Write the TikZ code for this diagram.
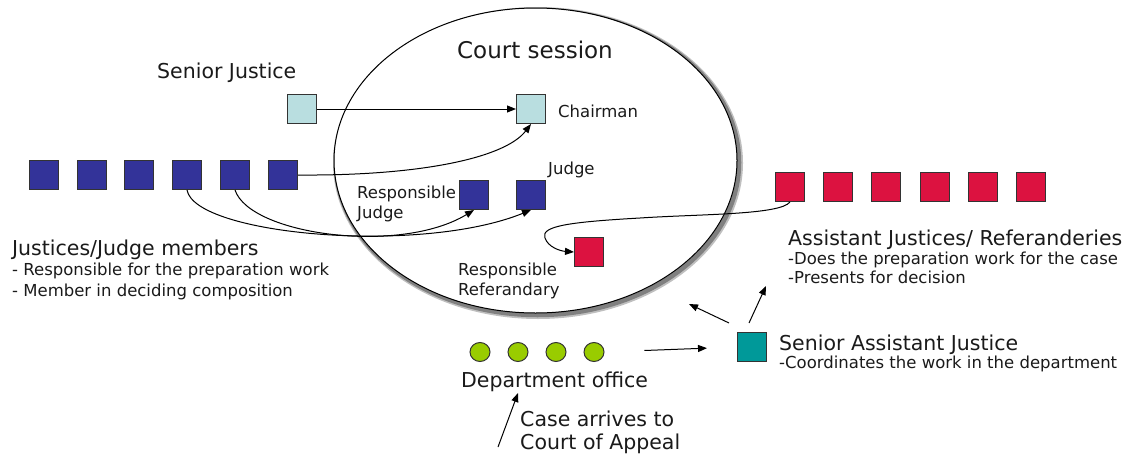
\documentclass[tikz,border=0pt]{standalone}
\usepackage{fontspec}
\setmainfont{DejaVu Sans}
\usetikzlibrary{arrows.meta,shapes.geometric}

\definecolor{navyc}{HTML}{333399}
\definecolor{lightc}{HTML}{B9DEE0}
\definecolor{redc}{HTML}{DC1240}
\definecolor{tealc}{HTML}{009999}
\definecolor{greenc}{HTML}{99CC00}
\definecolor{inkc}{HTML}{1A1A1A}

\newcommand{\bigtxt}{\fontsize{20.5}{24}\selectfont}
\newcommand{\smalltxt}{\fontsize{16.5}{20}\selectfont}
\newcommand{\titletxt}{\fontsize{23}{28}\selectfont}

\tikzset{
  box/.style={draw=black!80, line width=1pt, minimum width=29pt, minimum height=29pt, inner sep=0pt},
  navybox/.style={box, fill=navyc},
  lightbox/.style={box, fill=lightc},
  redbox/.style={box, fill=redc},
  tealbox/.style={box, fill=tealc},
  dot/.style={draw=black!80, line width=1pt, fill=greenc, ellipse, minimum width=20pt, minimum height=19pt, inner sep=0pt},
  lbl/.style={anchor=base west, inner sep=0pt, text=inkc},
  arr/.style={-{Triangle[length=9pt,width=7pt]}, line width=1pt},
  link/.style={line width=1pt}
}

\begin{document}
\begin{tikzpicture}[x=1pt,y=-1pt]
\useasboundingbox (0,0) rectangle (1131,455);

% soft drop shadow of the court session ellipse, kept outside the outline
\begin{scope}[even odd rule]
  \clip (-20,-20) rectangle (1151,475) (535.5,160.5) ellipse [x radius=201.5pt, y radius=152.5pt];
  \draw[black!25, line width=7pt] (538,163) ellipse [x radius=201.5pt, y radius=152.5pt];
  \draw[black!50, line width=4.5pt] (537.5,162.5) ellipse [x radius=201.5pt, y radius=152.5pt];
\end{scope}
\draw[line width=1pt] (535.5,160.5) ellipse [x radius=201.5pt, y radius=152.5pt];
\node[anchor=base, inner sep=0pt, text=inkc, font=\titletxt] (cs) at (535,58) {Court session};

% senior justice and chairman
\node[lightbox] (sj) at (301.5,109) {};
\node[lightbox] (ch) at (531,109) {};
\node[lbl, font=\bigtxt] (sjl) at (157,78) {Senior Justice};
\node[lbl, font=\smalltxt] (chl) at (558,117) {Chairman};

% justices / judge members
\foreach \i/\x in {1/43.5,2/91.5,3/139,4/187,5/235,6/283}
  \node[navybox] (n\i) at (\x,175) {};
\node[navybox] (rj) at (474,195) {};
\node[navybox] (jd) at (531,195) {};
\node[lbl, font=\smalltxt] (jdl) at (548,174) {Judge};
\node[lbl, font=\smalltxt] (rjl1) at (357,198) {Responsible};
\node[lbl, font=\smalltxt] (rjl2) at (357,218) {Judge};

\node[lbl, font=\bigtxt] (jm) at (12,255) {Justices/Judge members};
\node[lbl, font=\smalltxt] (jm1) at (12,275) {- Responsible for the preparation work};
\node[lbl, font=\smalltxt] (jm2) at (12,296) {- Member in deciding composition};

% assistant justices / referanderies
\foreach \i/\x in {1/790,2/838,3/886,4/935,5/983,6/1031}
  \node[redbox] (r\i) at (\x,187) {};
\node[redbox] (rr) at (589,252) {};
\node[lbl, font=\smalltxt] (rrl1) at (458,275) {Responsible};
\node[lbl, font=\smalltxt] (rrl2) at (458,295) {Referandary};

\node[lbl, font=\bigtxt] (aj) at (788,245) {Assistant Justices/ Referanderies};
\node[lbl, font=\smalltxt] (aj1) at (788,264) {-Does the preparation work for the case};
\node[lbl, font=\smalltxt] (aj2) at (788,283) {-Presents for decision};

% senior assistant justice
\node[tealbox] (sa) at (752,347) {};
\node[lbl, font=\bigtxt] (sal) at (779,350) {Senior Assistant Justice};
\node[lbl, font=\smalltxt] (sal1) at (779,368) {-Coordinates the work in the department};

% department office
\foreach \i/\x in {1/480,2/518,3/556,4/594}
  \node[dot] (g\i) at (\x,352) {};
\node[lbl, font=\bigtxt] (dep) at (461,387) {Department office};
\node[lbl, font=\bigtxt] (ca1) at (520,426) {Case arrives to};
\node[lbl, font=\bigtxt] (ca2) at (520,449) {Court of Appeal};

% free ends of the short arrows
\coordinate (caS) at (498,447);
\coordinate (caE) at (518,393);
\coordinate (saA) at (729,323);
\coordinate (saAe) at (689,304);
\coordinate (saB) at (749,323);
\coordinate (saBe) at (766,286);

% connectors
\draw[arr] (sj.east) -- (ch.west);
\draw[arr] (n6.east) .. controls (420,176) and (505,158) .. (ch.south);
\draw[arr] (n4.south) .. controls (195,235) and (420,255) .. (jd.south);
\draw[arr] (n5.south) .. controls (250,235) and (400,255) .. (rj.south);
\draw[arr] (r1.south) .. controls (780,215) and (700,214) .. (640,218)
                      .. controls (570,222) and (540,226) .. (545,238)
                      .. controls (548,247) and (560,251) .. (rr.west);
\draw[arr, shorten <=40pt, shorten >=30pt] (g4.east) -- (sa.west);
\draw[arr] (saA) -- (saAe);
\draw[arr] (saB) -- (saBe);
\draw[arr] (caS) -- (caE);
\end{tikzpicture}
\end{document}
